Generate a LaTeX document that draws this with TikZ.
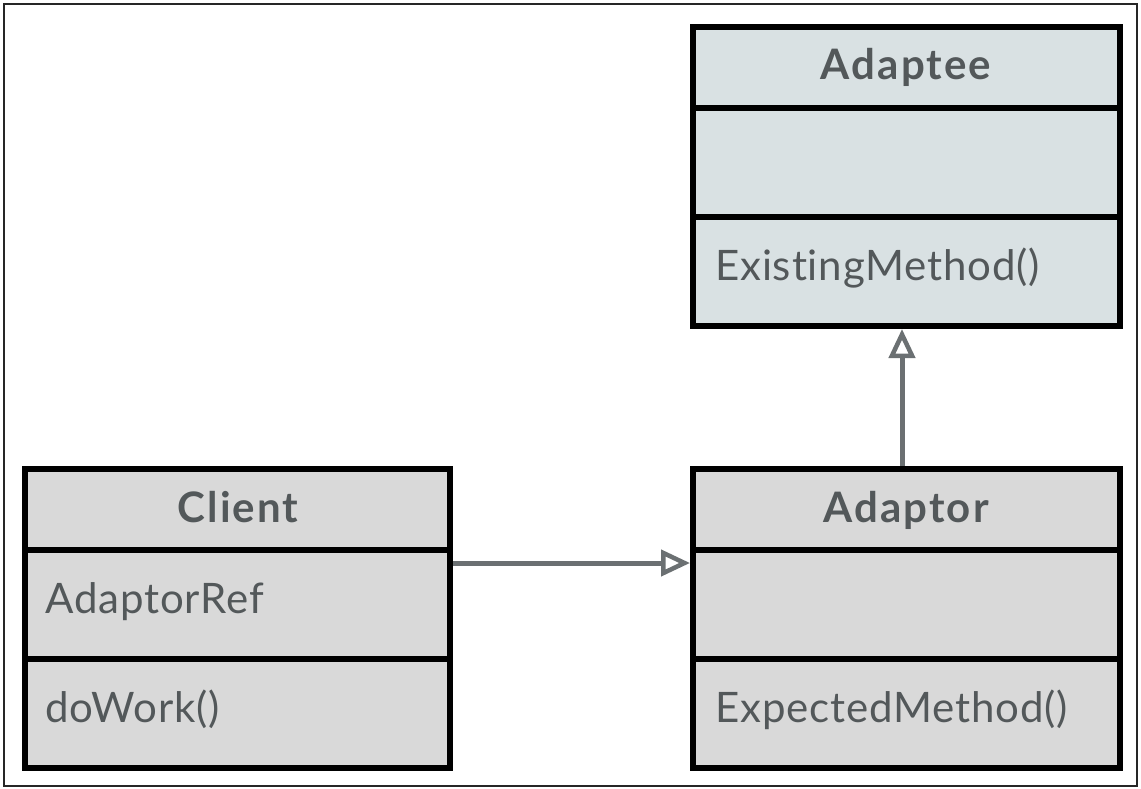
\documentclass[tikz,border=0pt]{standalone}
\usepackage{fontspec}
\setmainfont{Lato}
\newfontfamily\titlefont[LetterSpace=5,Ligatures=NoCommon]{Lato Bold}
\newfontfamily\memberfont[LetterSpace=2,Ligatures=NoCommon]{Lato}
\usetikzlibrary{arrows.meta}
\definecolor{txt}{HTML}{53585A}
\definecolor{conn}{HTML}{6B7072}
\definecolor{bluegray}{HTML}{D9E1E3}
\definecolor{lgray}{HTML}{D9D9D9}
\begin{document}
\begin{tikzpicture}[x=1pt,y=-1pt,
  classbox/.style={draw=black,line width=6pt,inner sep=0pt,anchor=north west,minimum width=427pt,minimum height=299pt},
  divider/.style={draw=black,line width=6pt},
  title/.style={text=txt,font=\titlefont\fontsize{42}{50}\selectfont,anchor=base},
  member/.style={text=txt,font=\memberfont\fontsize{42}{50}\selectfont,anchor=base west,inner sep=0pt},
  conn/.style={draw=conn,line width=5pt,-{Triangle[open,length=29pt,width=26pt,line width=4.5pt]}}]
\useasboundingbox (0,0) rectangle (1141,789);
\draw[line width=2pt,draw=black!85] (4,4) rectangle (1137,786);
% boxes
\node[classbox,fill=bluegray] (adaptee) at (690,24) {};
\node[classbox,fill=lgray,minimum width=425pt] (client) at (22,466) {};
\node[classbox,fill=lgray] (adaptor) at (690,466) {};
% dividers
\draw[divider] (adaptee.west |- 0,108) -- (adaptee.east |- 0,108);
\draw[divider] (adaptee.west |- 0,217) -- (adaptee.east |- 0,217);
\draw[divider] (client.west |- 0,550) -- (client.east |- 0,550);
\draw[divider] (client.west |- 0,659) -- (client.east |- 0,659);
\draw[divider] (adaptor.west |- 0,550) -- (adaptor.east |- 0,550);
\draw[divider] (adaptor.west |- 0,659) -- (adaptor.east |- 0,659);
% texts
\node[title] (adapteeT) at (906,80) {Adaptee};
\node[member] (existing) at (715,280) {ExistingMethod()};
\node[title] (clientT) at (238,522) {Client};
\node[member] (adref) at (45,613) {AdaptorRef};
\node[member] (dowork) at (45,722) {doWork()};
\node[title] (adaptorT) at (906,522) {Adaptor};
\node[member] (expected) at (715,722) {ExpectedMethod()};
% connectors
\coordinate (c1) at (0,563);
\draw[conn] (client.east |- c1) -- (adaptor.west |- c1);
\coordinate (c2) at (902,0);
\draw[conn] (adaptor.north -| c2) -- (adaptee.south -| c2);
\end{tikzpicture}
\end{document}
